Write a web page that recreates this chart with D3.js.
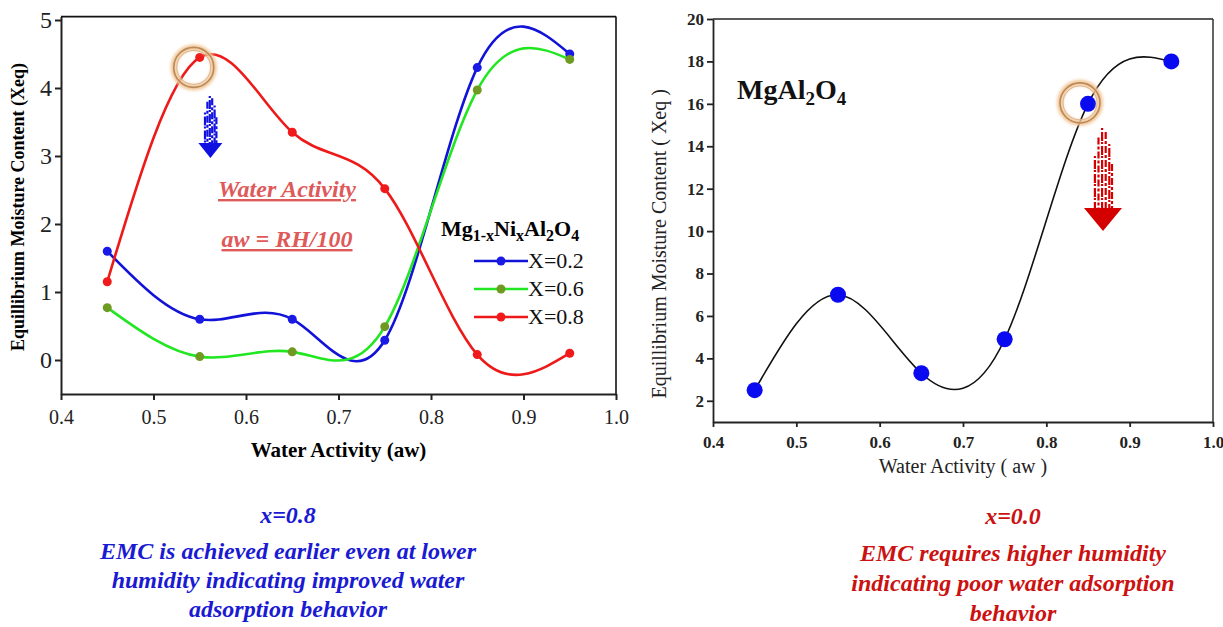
<!DOCTYPE html>
<html>
<head>
<meta charset="utf-8">
<script src="https://cdn.jsdelivr.net/npm/d3@7"></script>
<style>
  body { margin: 0; background: #fff; }
  svg { display: block; }
  svg text { font-family: "Liberation Serif", "Times New Roman", serif; }
</style>
</head>
<body>
<svg id="chart" width="1223" height="627"></svg>
<script>
///////////////////////////////////////////////////////////
// Data

const aw = [0.45, 0.55, 0.65, 0.75, 0.85, 0.95];
const xeqX02 = [1.6, 0.6, 0.6, 0.29, 4.3, 4.5];
const xeqX06 = [0.77, 0.05, 0.12, 0.49, 3.97, 4.42];
const xeqX08 = [1.15, 4.45, 3.35, 2.52, 0.08, 0.1];
const xeqMgAl2O4 = [2.5, 7.0, 3.3, 4.9, 16.0, 18.0];

const xTicks = [0.4, 0.5, 0.6, 0.7, 0.8, 0.9, 1.0];
const yTicksLeft = [0, 1, 2, 3, 4, 5];
const yTicksRight = [2, 4, 6, 8, 10, 12, 14, 16, 18, 20];

const leftSeries = [
  { name: "X=0.2", values: xeqX02, line: "#1212d8", dot: "#1a1ae6" },
  { name: "X=0.6", values: xeqX06, line: "#22e622", dot: "#6f9a22" },
  { name: "X=0.8", values: xeqX08, line: "#ee1a1a", dot: "#f01a1a" },
];

const SERIF = "Liberation Serif";
const svg = d3.select("#chart");

// glow for the highlight rings
const defs = svg.append("defs");
defs.append("filter").attr("id", "glow")
  .attr("x", "-50%").attr("y", "-50%").attr("width", "200%").attr("height", "200%")
  .append("feGaussianBlur").attr("stdDeviation", 1.6);

function ring(g, cx, cy) {
  g.append("circle").attr("cx", cx).attr("cy", cy).attr("r", 20)
    .attr("fill", "none").attr("stroke", "#f3c79a").attr("stroke-width", 6)
    .attr("filter", "url(#glow)");
  g.append("circle").attr("cx", cx).attr("cy", cy).attr("r", 20)
    .attr("fill", "none").attr("stroke", "#b98a5a").attr("stroke-width", 1.6);
  g.append("circle").attr("cx", cx).attr("cy", cy).attr("r", 17)
    .attr("fill", "none").attr("stroke", "#d8b48c").attr("stroke-width", 1);
}

// streaky down arrow
function streakArrow(g, cx, top, bottom, headW, headH, shaftW, color) {
  const offsets = [-0.45, -0.25, -0.05, 0.15, 0.35, 0.5];
  const starts = [0.35, 0.12, 0.0, 0.05, 0.2, 0.45];
  const shaftBottom = bottom - headH;
  offsets.forEach((o, i) => {
    const y0 = top + starts[i] * (shaftBottom - top);
    g.append("line")
      .attr("x1", cx + o * shaftW).attr("x2", cx + o * shaftW)
      .attr("y1", y0).attr("y2", shaftBottom + 1)
      .attr("stroke", color).attr("stroke-width", 2.2)
      .attr("stroke-dasharray", i % 2 ? "7,2,3,2" : "2,2,9,1");
  });
  g.append("path")
    .attr("d", `M${cx - headW / 2},${shaftBottom} L${cx + headW / 2},${shaftBottom} L${cx},${bottom} Z`)
    .attr("fill", color);
}

// bold italic centred text
function boldItalic(g, x, y, str, size, color) {
  return g.append("text").attr("x", x).attr("y", y)
    .attr("text-anchor", "middle").attr("font-family", SERIF).attr("font-weight", "bold")
    .attr("font-style", "italic").attr("font-size", size).attr("fill", color).text(str);
}

///////////////////////////////////////////////////////////
// Left chart: Mg1-xNixAl2O4

const L = svg.append("g");
const xL = d3.scaleLinear().domain([0.4, 1.0]).range([61, 616]);
const yL = d3.scaleLinear().domain([-0.5, 5.05]).range([394, 16.6]);

// frame
L.append("line").attr("x1", xL(0.4)).attr("x2", xL(1.0)).attr("y1", yL(5.05)).attr("y2", yL(5.05))
  .attr("stroke", "#111").attr("stroke-width", 1.6);
L.append("line").attr("x1", xL(1.0)).attr("x2", xL(1.0)).attr("y1", yL(5.05)).attr("y2", yL(-0.5))
  .attr("stroke", "#111").attr("stroke-width", 1.6);

const axL = L.append("g").attr("transform", `translate(0,${yL(-0.5)})`)
  .call(d3.axisBottom(xL).tickValues(xTicks).tickFormat(d3.format(".1f")).tickSize(6).tickSizeOuter(0));
const ayL = L.append("g").attr("transform", `translate(${xL(0.4)},0)`)
  .call(d3.axisLeft(yL).tickValues(yTicksLeft).tickFormat(d3.format("d")).tickSize(6).tickSizeOuter(0));
[axL, ayL].forEach(a => {
  a.attr("font-family", SERIF);
  a.selectAll("path, line").attr("stroke", "#222").attr("stroke-width", 2);
  a.selectAll("text").attr("font-family", SERIF).attr("font-size", 20).attr("fill", "#222");
});
axL.selectAll("text").attr("dy", "1.05em");
ayL.selectAll("text").attr("x", -9).attr("font-size", 24);

L.append("text").attr("x", xL(0.7)).attr("y", 457).attr("text-anchor", "middle")
  .attr("font-family", SERIF).attr("font-weight", "bold").attr("font-size", 21).text("Water Activity (aw)");
L.append("text").attr("transform", `translate(24,${yL(2.25)}) rotate(-90)`).attr("text-anchor", "middle")
  .attr("font-family", SERIF).attr("font-weight", "bold").attr("font-size", 18).text("Equillibrium Moisture Content (Xeq)");

const lineL = d3.line().x((d, i) => xL(aw[i])).y(d => yL(d)).curve(d3.curveNatural);

leftSeries.forEach(s => {
  L.append("path").attr("d", lineL(s.values)).attr("fill", "none")
    .attr("stroke", s.line).attr("stroke-width", 2.6);
});
leftSeries.forEach(s => {
  L.selectAll(null).data(s.values).enter().append("circle")
    .attr("cx", (d, i) => xL(aw[i])).attr("cy", d => yL(d)).attr("r", 4.5).attr("fill", s.dot);
});

// annotation text
boldItalic(L, 287, 197, "Water Activity", 24, "#de5a5a").attr("text-decoration", "underline");
boldItalic(L, 287, 247, "aw = RH/100", 24, "#de5a5a").attr("text-decoration", "underline");

// legend
const leg = L.append("g");
const legTitle = leg.append("text").attr("x", 441).attr("y", 236)
  .attr("font-family", SERIF).attr("font-weight", "bold").attr("font-size", 22);
legTitle.append("tspan").text("Mg");
legTitle.append("tspan").attr("dy", 5).attr("font-size", 16).text("1-x");
legTitle.append("tspan").attr("dy", -5).text("Ni");
legTitle.append("tspan").attr("dy", 5).attr("font-size", 16).text("x");
legTitle.append("tspan").attr("dy", -5).text("Al");
legTitle.append("tspan").attr("dy", 5).attr("font-size", 16).text("2");
legTitle.append("tspan").attr("dy", -5).text("O");
legTitle.append("tspan").attr("dy", 5).attr("font-size", 16).text("4");

leftSeries.forEach((s, i) => {
  const y = 261 + i * 28;
  leg.append("line").attr("x1", 474).attr("x2", 528).attr("y1", y).attr("y2", y)
    .attr("stroke", s.line).attr("stroke-width", 2.6);
  leg.append("circle").attr("cx", 501).attr("cy", y).attr("r", 4.5).attr("fill", s.dot);
  leg.append("text").attr("x", 528).attr("y", y + 7).attr("font-family", SERIF)
    .attr("font-size", 22).attr("fill", "#111").text(s.name);
});

// highlight + arrow at the X=0.8 peak
ring(L, xL(0.55) - 6, yL(4.45) + 10);
streakArrow(L, xL(0.5615), 96, 158, 24, 15, 12, "#1010e0");

///////////////////////////////////////////////////////////
// Right chart: MgAl2O4

const R = svg.append("g");
const xR = d3.scaleLinear().domain([0.4, 1.0]).range([713, 1213]);
const yR = d3.scaleLinear().domain([1, 20]).range([422, 19]);

R.append("line").attr("x1", xR(0.4)).attr("x2", xR(1.0)).attr("y1", yR(20)).attr("y2", yR(20))
  .attr("stroke", "#222").attr("stroke-width", 1.4);
R.append("line").attr("x1", xR(1.0)).attr("x2", xR(1.0)).attr("y1", yR(20)).attr("y2", yR(1))
  .attr("stroke", "#222").attr("stroke-width", 1.4);

const axR = R.append("g").attr("transform", `translate(0,${yR(1)})`)
  .call(d3.axisBottom(xR).tickValues(xTicks).tickFormat(d3.format(".1f")).tickSize(5).tickSizeOuter(0));
const ayR = R.append("g").attr("transform", `translate(${xR(0.4)},0)`)
  .call(d3.axisLeft(yR).tickValues(yTicksRight).tickFormat(d3.format("d")).tickSize(6).tickSizeOuter(0));
[axR, ayR].forEach(a => {
  a.attr("font-family", SERIF);
  a.selectAll("path, line").attr("stroke", "#222").attr("stroke-width", 1.8);
  a.selectAll("text").attr("font-family", SERIF).attr("font-weight", "bold")
    .attr("font-size", 17).attr("fill", "#222");
});
axR.selectAll("text").attr("dy", "1.05em");
ayR.selectAll("text").attr("x", -9);

R.append("text").attr("x", xR(0.7)).attr("y", 473).attr("text-anchor", "middle")
  .attr("font-family", SERIF).attr("font-size", 20).attr("fill", "#222").text("Water Activity ( aw )");
R.append("text").attr("transform", `translate(666,${yR(9.4)}) rotate(-90)`).attr("text-anchor", "middle")
  .attr("font-family", SERIF).attr("font-size", 20).attr("fill", "#222").text("Equillibrium Moisture Content ( Xeq )");

const lineR = d3.line().x((d, i) => xR(aw[i])).y(d => yR(d)).curve(d3.curveNatural);
R.append("path").attr("d", lineR(xeqMgAl2O4)).attr("fill", "none")
  .attr("stroke", "#111").attr("stroke-width", 1.6);
R.selectAll(null).data(xeqMgAl2O4).enter().append("circle")
  .attr("cx", (d, i) => xR(aw[i])).attr("cy", d => yR(d)).attr("r", 8).attr("fill", "#0a0af0");

const compT = R.append("text").attr("x", 737).attr("y", 99)
  .attr("font-family", SERIF).attr("font-weight", "bold").attr("font-size", 28).attr("fill", "#111");
compT.append("tspan").text("MgAl");
compT.append("tspan").attr("dy", 6).attr("font-size", 19).text("2");
compT.append("tspan").attr("dy", -6).text("O");
compT.append("tspan").attr("dy", 6).attr("font-size", 19).text("4");

ring(R, xR(0.85) - 8, yR(16) - 1);
streakArrow(R, xR(0.868), 128, 231, 38, 23, 18, "#d40000");

///////////////////////////////////////////////////////////
// Captions

function caption(lines, cx, baselines, color) {
  const t = svg.append("g");
  lines.forEach((l, i) => boldItalic(t, cx, baselines[i], l, 24, color));
}
caption(["x=0.8", "EMC is achieved earlier even at lower", "humidity indicating improved water", "adsorption behavior"],
  288, [523, 559, 588, 617], "#1a1ad2");
caption(["x=0.0", "EMC requires higher humidity", "indicating poor water adsorption", "behavior"],
  1013, [524, 561, 591, 621], "#cc1111");
</script>
</body>
</html>
